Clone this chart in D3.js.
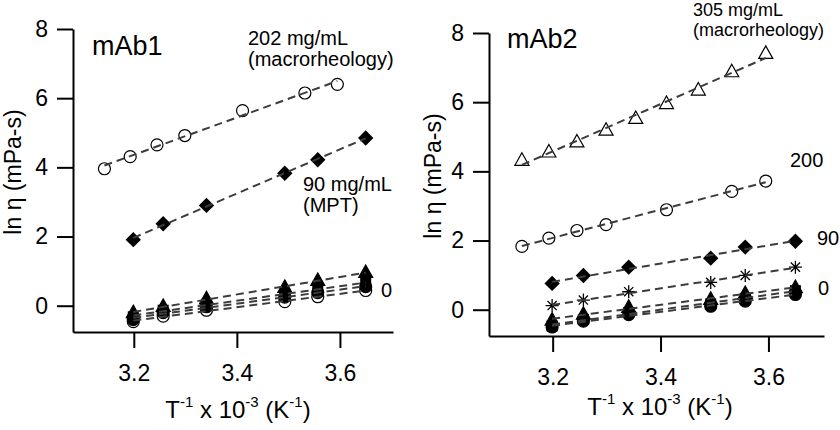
<!DOCTYPE html>
<html>
<head>
<meta charset="utf-8">
<script src="https://cdn.jsdelivr.net/npm/d3@7"></script>
<style>
  body { margin: 0; background: #fff; }
  svg { font-family: "Liberation Sans", Arial, Helvetica, sans-serif; }
</style>
</head>
<body>
<div class="chart"></div>
<script>
// inverse temperature, 10^3/K
const tFull = [3.143, 3.193, 3.245, 3.299, 3.411, 3.532, 3.595];
const tMpt = [3.199, 3.257, 3.341, 3.493, 3.557, 3.650];
const tMacro2 = [3.143, 3.193, 3.245, 3.299, 3.354, 3.411, 3.470, 3.532, 3.595];

const xTicks = [3.2, 3.4, 3.6];
const yTicks = [0, 2, 4, 6, 8];

// mAb1, ln(viscosity)
const m1Macro202 = [3.96, 4.31, 4.65, 4.92, 5.64, 6.15, 6.40];
const m1Mpt90 = [1.91, 2.37, 2.90, 3.83, 4.22, 4.85];
const m1Zero_tri = [-0.20, -0.02, 0.20, 0.53, 0.73, 0.96];
const m1Zero_sq = [-0.32, -0.13, 0.04, 0.34, 0.47, 0.66];
const m1Zero_dot = [-0.40, -0.20, -0.03, 0.25, 0.38, 0.55];
const m1Zero_open = [-0.46, -0.30, -0.13, 0.12, 0.26, 0.44];

// mAb2
const m2Macro305 = [4.32, 4.56, 4.85, 5.19, 5.53, 5.96, 6.35, 6.88, 7.41];
const m2Macro200 = [1.83, 2.07, 2.29, 2.46, 2.89, 3.42, 3.72];
const m2Mpt90 = [0.76, 0.99, 1.23, 1.49, 1.81, 1.98];
const m2Star = [0.12, 0.28, 0.52, 0.79, 0.99, 1.23];
const m2Zero_tri = [-0.30, -0.13, 0.07, 0.30, 0.47, 0.64];
const m2Zero_sq = [-0.47, -0.28, -0.08, 0.17, 0.33, 0.55];
const m2Zero_dot = [-0.50, -0.33, -0.14, 0.10, 0.25, 0.44];

const width = 840, height = 430;
const svg = d3.select('.chart').append('svg')
    .attr('width', width)
    .attr('height', height);

function fit(xs, ys) {
    const mx = d3.mean(xs), my = d3.mean(ys);
    let num = 0, den = 0;
    xs.forEach((x, i) => { num += (x - mx) * (ys[i] - my); den += (x - mx) * (x - mx); });
    const b = num / den;
    return [[xs[0], my + b * (xs[0] - mx)], [xs[xs.length - 1], my + b * (xs[xs.length - 1] - mx)]];
}

function drawMarker(g, type, cx, cy) {
    if (type === 'circle' || type === 'dot') {
        g.append('circle').attr('cx', cx).attr('cy', cy).attr('r', 6)
            .attr('fill', type === 'dot' ? '#000' : 'none')
            .attr('stroke', '#000').attr('stroke-width', 1.2);
    } else if (type === 'diamond') {
        g.append('path').attr('d', d3.symbol(d3.symbolDiamond2, 150)())
            .attr('transform', `translate(${cx},${cy})`)
            .attr('fill', '#000');
    } else if (type === 'tri' || type === 'opentri') {
        g.append('path').attr('d', 'M0,-7.5L7,5L-7,5Z')
            .attr('transform', `translate(${cx},${cy})`)
            .attr('fill', type === 'tri' ? '#000' : 'none')
            .attr('stroke', '#000').attr('stroke-width', 1.2);
    } else if (type === 'square') {
        g.append('rect').attr('x', cx - 5.5).attr('y', cy - 5.5)
            .attr('width', 11).attr('height', 11).attr('fill', '#000');
    } else if (type === 'star') {
        const r = 6.5, k = r * 0.7071;
        g.append('path')
            .attr('d', `M${cx},${cy - r}V${cy + r}M${cx - r},${cy}H${cx + r}M${cx - k},${cy - k}L${cx + k},${cy + k}M${cx - k},${cy + k}L${cx + k},${cy - k}`)
            .attr('stroke', '#000').attr('stroke-width', 1.3).attr('fill', 'none');
    }
}

function drawPanel(p) {
    const x = d3.scaleLinear().domain([3.082, 3.703]).range([p.left, p.right]);
    const y = d3.scaleLinear().domain([-0.76, 8]).range([p.bottom, p.top]);

    const xAxis = svg.append('g')
        .attr('transform', `translate(0,${p.bottom})`)
        .call(d3.axisBottom(x).tickValues(xTicks).tickFormat(d3.format('.1f'))
            .tickSize(16).tickSizeOuter(0).tickPadding(17));
    const yAxis = svg.append('g')
        .attr('transform', `translate(${p.left},0)`)
        .call(d3.axisLeft(y).tickValues(yTicks).tickFormat(d3.format('d'))
            .tickSize(16).tickSizeOuter(0).tickPadding(9));
    [xAxis, yAxis].forEach(a => {
        a.selectAll('path, line').attr('stroke', '#000').attr('stroke-width', 2);
        a.selectAll('text').attr('font-size', 23).attr('fill', '#000')
            .attr('font-family', '"Liberation Sans", Arial, sans-serif');
    });

    const marks = svg.append('g');
    const lines = svg.append('g');
    p.series.forEach(s => {
        s.ys.forEach((v, i) => drawMarker(marks, s.type, x(s.xs[i]), y(v)));
        const f = fit(s.xs, s.ys);
        lines.append('line')
            .attr('x1', x(f[0][0])).attr('y1', y(f[0][1]))
            .attr('x2', x(f[1][0])).attr('y2', y(f[1][1]))
            .attr('stroke', '#3c3c3c').attr('stroke-width', 2)
            .attr('stroke-dasharray', '8,5');
    });

    // axis titles
    svg.append('text')
        .attr('transform', `translate(${p.yTitleX},${p.yTitleY}) rotate(-90)`)
        .attr('text-anchor', 'middle').attr('font-size', 23)
        .text('ln η (mPa-s)');

    const xt = svg.append('text')
        .attr('x', p.xTitleX).attr('y', p.xTitleY)
        .attr('text-anchor', 'middle').attr('font-size', 24);
    xt.append('tspan').text('T');
    xt.append('tspan').attr('font-size', 15).attr('dy', -11).text('-1');
    xt.append('tspan').attr('dy', 11).text(' x 10');
    xt.append('tspan').attr('font-size', 15).attr('dy', -11).text('-3');
    xt.append('tspan').attr('dy', 11).text(' (K');
    xt.append('tspan').attr('font-size', 15).attr('dy', -11).text('-1');
    xt.append('tspan').attr('dy', 11).text(')');

    p.labels.forEach(l => {
        svg.append('text').attr('x', l.x).attr('y', l.y)
            .attr('font-size', l.size).text(l.text);
    });
}

drawPanel({
    left: 73, right: 393, top: 29, bottom: 332,
    yTitleX: 21, yTitleY: 172, xTitleX: 238, xTitleY: 418,
    series: [
        {xs: tFull, ys: m1Macro202, type: 'circle'},
        {xs: tMpt, ys: m1Mpt90, type: 'diamond'},
        {xs: tMpt, ys: m1Zero_open, type: 'circle'},
        {xs: tMpt, ys: m1Zero_dot, type: 'dot'},
        {xs: tMpt, ys: m1Zero_sq, type: 'square'},
        {xs: tMpt, ys: m1Zero_tri, type: 'tri'}
    ],
    labels: [
        {x: 92, y: 55, size: 27, text: 'mAb1'},
        {x: 248, y: 45, size: 20, text: '202 mg/mL'},
        {x: 248, y: 66, size: 20, text: '(macrorheology)'},
        {x: 303, y: 191, size: 20, text: '90 mg/mL'},
        {x: 303, y: 212, size: 20, text: '(MPT)'},
        {x: 381, y: 297, size: 20, text: '0'}
    ]
});

drawPanel({
    left: 489, right: 824, top: 33, bottom: 336,
    yTitleX: 441, yTitleY: 176, xTitleX: 660, xTitleY: 415,
    series: [
        {xs: tMacro2, ys: m2Macro305, type: 'opentri'},
        {xs: tFull, ys: m2Macro200, type: 'circle'},
        {xs: tMpt, ys: m2Mpt90, type: 'diamond'},
        {xs: tMpt, ys: m2Star, type: 'star'},
        {xs: tMpt, ys: m2Zero_dot, type: 'dot'},
        {xs: tMpt, ys: m2Zero_sq, type: 'square'},
        {xs: tMpt, ys: m2Zero_tri, type: 'tri'}
    ],
    labels: [
        {x: 507, y: 48, size: 27, text: 'mAb2'},
        {x: 693, y: 16, size: 18, text: '305 mg/mL'},
        {x: 693, y: 36, size: 18, text: '(macrorheology)'},
        {x: 790, y: 167, size: 20, text: '200'},
        {x: 817, y: 245, size: 20, text: '90'},
        {x: 818, y: 295, size: 20, text: '0'}
    ]
});
</script>
</body>
</html>
